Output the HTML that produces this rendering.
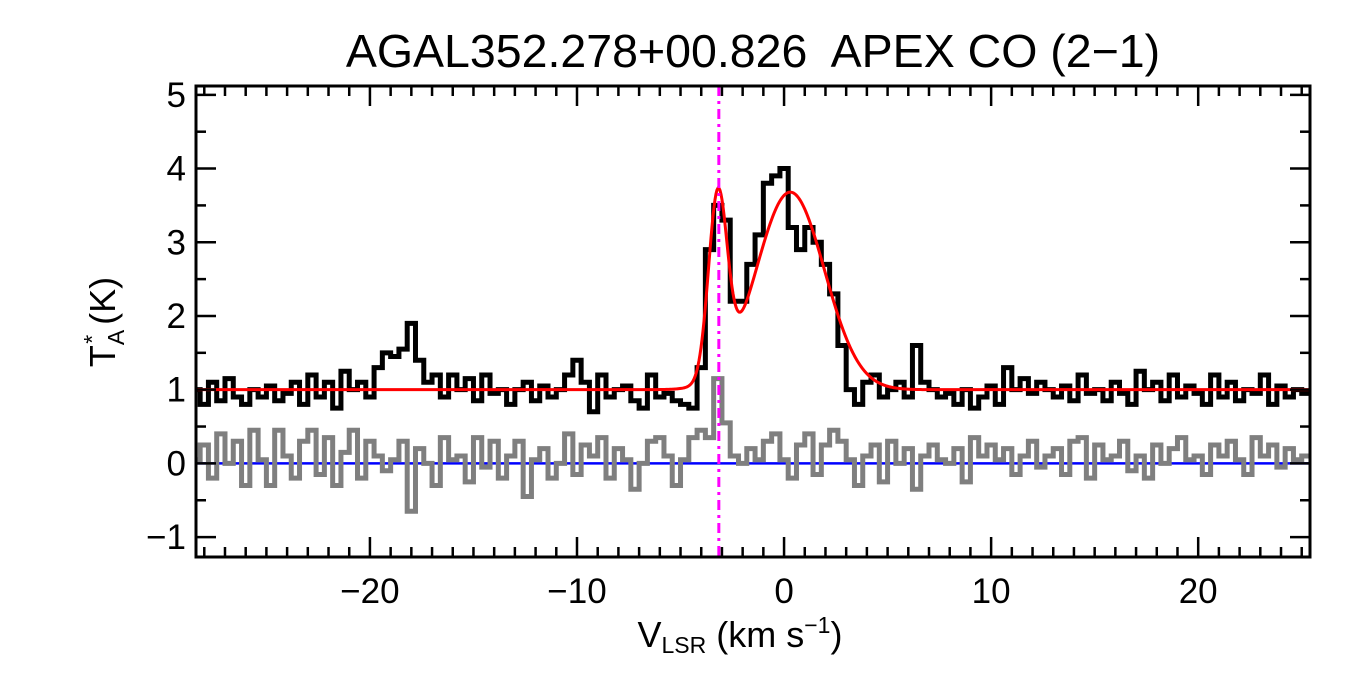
<!DOCTYPE html>
<html><head><meta charset="utf-8"><style>
html,body{margin:0;padding:0;background:#fff;}
svg{display:block;font-family:"Liberation Sans",Arial,sans-serif;}
</style></head><body>
<svg id="chart" width="1350" height="675" viewBox="0 0 1350 675">
<text x="753" y="67" font-size="46.5" text-anchor="middle" xml:space="preserve">AGAL352.278+00.826  APEX CO (2−1)</text>
<g id="plot"></g>
<g id="axes"></g>
<text x="740" y="647" font-size="36" text-anchor="middle">V<tspan font-size="23" dy="6">LSR</tspan><tspan dy="-6"> (km s</tspan><tspan font-size="23" dy="-14">−1</tspan><tspan dy="14">)</tspan></text>
<text transform="translate(115,322) rotate(-90)" font-size="36" text-anchor="middle">T<tspan font-size="23" dy="9">A</tspan><tspan font-size="23" dx="-14" dy="-24">*</tspan><tspan dy="15"> (K)</tspan></text>
</svg>
<script>
const vStart = -28.4;
const vStep = 0.4;
const spectrum = [1.0,0.8,1.1,0.85,1.15,0.9,0.8,1.0,0.9,1.05,0.85,
0.95,1.1,0.8,1.2,0.9,1.1,0.75,1.25,1.0,1.1,0.9,
1.3,1.5,1.45,1.55,1.9,1.4,1.1,1.2,0.9,1.2,1.0,
1.15,0.85,1.2,0.95,1.0,0.8,1.0,1.1,0.85,1.05,0.9,
1.0,1.2,1.4,1.1,0.7,1.2,0.9,1.0,1.05,0.85,0.75,
1.2,0.9,0.95,0.85,0.8,0.75,
1.3,2.9,3.5,3.3,2.2,2.2,2.7,3.1,3.8,3.9,4.0,3.2,2.9,3.2,3.0,2.7,2.3,1.6,1.0,0.8,1.1,1.2,0.9,1.0,1.1,0.9,1.6,1.1,1.0,0.9,
0.95,0.8,1.0,0.75,0.9,1.05,0.8,1.3,1.0,1.15,0.95,1.1,1.0,0.9,1.05,0.85,1.2,0.95,1.0,0.85,1.1,0.95,0.8,1.25,1.0,1.1,0.85,1.2,0.9,1.05,0.95,0.8,1.2,0.9,1.1,0.85,1.0,0.95,1.2,0.8,1.05,0.9,1.0,0.95];
const residual = [0.05,0.25,-0.2,0.4,0.0,0.3,-0.3,0.45,0.05,-0.3,0.45,
0.1,-0.2,0.3,0.45,-0.15,0.35,-0.3,0.15,0.45,-0.2,0.3,
0.1,-0.1,0.05,0.3,-0.65,0.2,0.0,-0.3,0.35,0.05,0.1,
-0.25,0.35,-0.05,0.3,-0.2,0.1,0.3,-0.45,0.05,0.2,-0.2,
0.0,0.4,-0.15,0.25,0.1,0.35,-0.2,0.2,0.05,-0.35,0.0,
0.3,0.35,0.1,-0.3,0.05,0.35,
0.45,0.35,1.15,0.55,0.1,0.0,0.2,0.05,0.3,0.4,0.05,-0.2,0.25,0.4,-0.15,0.25,0.45,0.3,0.05,-0.3,0.1,0.25,-0.25,0.3,0.0,0.2,-0.35,0.1,0.25,0.05,
0.0,0.2,-0.25,0.35,0.1,0.25,0.05,0.2,-0.15,0.1,0.3,-0.05,0.1,0.2,-0.15,0.3,0.35,-0.2,0.25,0.05,0.1,0.3,-0.1,0.1,-0.2,0.25,0.0,0.2,0.35,0.05,0.1,-0.15,0.25,0.1,0.3,0.05,-0.15,0.35,0.1,0.25,-0.05,0.2,0.05,0.1];
const fitBaseline = [1.0];
const fitAmps = [2.45,2.68];
const fitCenters = [-3.2,0.3];
const fitSigmas = [0.45,1.65];
const markerV = [-3.15];
const xTicks = [-20,-10,0,10,20];
const yTicks = [-1,0,1,2,3,4,5];

const X0=196,X1=1310,Y0=86,Y1=557, vMin=-28.4, vMax=25.4, tMin=-1.27, tMax=5.12;
const xs=v=>X0+(v-vMin)/(vMax-vMin)*(X1-X0);
const ys=t=>Y1-(t-tMin)/(tMax-tMin)*(Y1-Y0);
const NS='http://www.w3.org/2000/svg';
const plot=document.getElementById('plot'), axes=document.getElementById('axes');
function mk(tag,attrs,parent){const e=document.createElementNS(NS,tag);for(const k in attrs)e.setAttribute(k,attrs[k]);parent.appendChild(e);return e;}
function clamp(x){return Math.max(X0,Math.min(X1,x));}
function stepPath(arr){let d='';arr.forEach((t,i)=>{const a=clamp(xs(vStart+i*vStep-vStep/2)),b=clamp(xs(vStart+i*vStep+vStep/2));const y=ys(t);d+=(i?'L':'M')+a+' '+y+'L'+b+' '+y;});return d;}
const clip=mk('clipPath',{id:'pc'},mk('defs',{},plot));mk('rect',{x:X0,y:Y0,width:X1-X0,height:Y1-Y0},clip);

const base=mk('line',{x1:X0,x2:X1,y1:ys(0),y2:ys(0),stroke:'#0000ff','stroke-width':2.5},plot);


const rp=mk('path',{d:stepPath(residual),fill:'none',stroke:'#7f7f7f','stroke-width':5,'clip-path':'url(#pc)'},plot);


const sp=mk('path',{d:stepPath(spectrum),fill:'none',stroke:'#000','stroke-width':5,'clip-path':'url(#pc)'},plot);


let fd='';for(let px=X0;px<=X1;px+=1){const v=vMin+(px-X0)/(X1-X0)*(vMax-vMin);let t=fitBaseline[0];for(let k=0;k<fitAmps.length;k++)t+=fitAmps[k]*Math.exp(-0.5*Math.pow((v-fitCenters[k])/fitSigmas[k],2));fd+=(px===X0?'M':'L')+px+' '+ys(t);}
const fp=mk('path',{d:fd,fill:'none',stroke:'#ff0000','stroke-width':3},plot);


const ml=mk('line',{x1:xs(markerV[0]),x2:xs(markerV[0]),y1:Y0,y2:Y1,stroke:'#ff00ff','stroke-width':3,'stroke-dasharray':'10 5 3 5'},plot);



const fr=mk('rect',{x:X0,y:Y0,width:X1-X0,height:Y1-Y0,fill:'none',stroke:'#000','stroke-width':3},axes);


for(let v=-28;v<=25;v++){const major=v%10===0;const L=major?20:10;const x=xs(v);
mk('line',{x1:x,x2:x,y1:Y1,y2:Y1-L,stroke:'#000','stroke-width':2.5},axes);
mk('line',{x1:x,x2:x,y1:Y0,y2:Y0+L,stroke:'#000','stroke-width':2.5},axes);}
xTicks.forEach(v=>{const t=mk('text',{x:xs(v),y:603,'font-size':35,'text-anchor':'middle'},axes);t.textContent=v<0?'−'+(-v):String(v);

});
for(let k=-2;k<=10;k++){const t=k/2;if(t<tMin||t>tMax)continue;const y=ys(t);const L=(k%2===0)?20:10;
mk('line',{x1:X0,x2:X0+L,y1:y,y2:y,stroke:'#000','stroke-width':2.5},axes);
mk('line',{x1:X1,x2:X1-L,y1:y,y2:y,stroke:'#000','stroke-width':2.5},axes);}
yTicks.forEach(t=>{const e=mk('text',{x:186,y:ys(t)+12,'font-size':35,'text-anchor':'end'},axes);e.textContent=t<0?'−'+(-t):String(t);

});
</script>
</body></html>
